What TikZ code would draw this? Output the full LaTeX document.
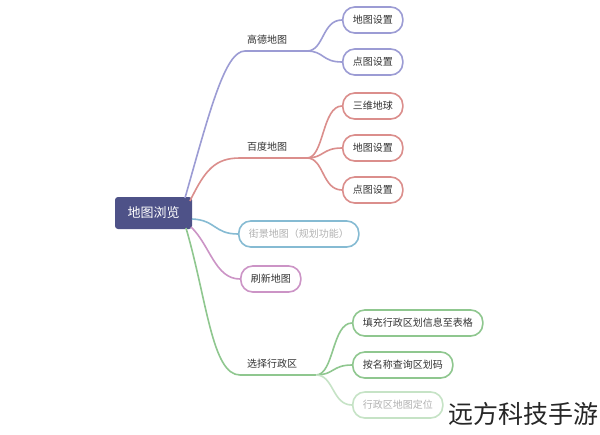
\documentclass[tikz,border=0pt]{standalone}
\usepackage{fontspec}
\setmainfont{Noto Sans CJK SC}
\definecolor{cpur}{HTML}{9C9CD4}
\definecolor{cred}{HTML}{DB8E8C}
\definecolor{cblue}{HTML}{86BBD3}
\definecolor{cpink}{HTML}{CC94C6}
\definecolor{cgreen}{HTML}{8FC78F}
\definecolor{cgreenl}{HTML}{C6E3C6}
\definecolor{croot}{HTML}{4E5288}
\begin{document}
\begin{tikzpicture}[x=1pt,y=-1pt,
  pill/.style={draw, line width=1.6pt, rounded corners=12pt, fill=white,
    minimum height=26pt, inner xsep=10pt, anchor=west,
    font=\fontsize{10}{12}\selectfont, text=black!80},
  lbl/.style={font=\fontsize{10}{12}\selectfont, text=black!80},
  conn/.style={line width=1.6pt},
  faded/.style={text=black!30}]
\useasboundingbox[fill=white] (0,0) rectangle (600,434);

% root
\node[fill=croot, rounded corners=3pt, minimum width=77pt, minimum height=32pt,
  text=white, font=\fontsize{13}{15}\selectfont] (root) at (153.5,213) {地图浏览};

% coordinates of connector ends
\coordinate (r1) at (185,198);
\coordinate (r2) at (190,201);
\coordinate (r3) at (192,219);
\coordinate (r4) at (191,227);
\coordinate (r5) at (186,228);
\coordinate (gdL) at (245,51);
\coordinate (gdR) at (307,51);
\coordinate (bdL) at (240,158);
\coordinate (bdR) at (307,158);
\coordinate (xzL) at (240,375);
\coordinate (xzR) at (316,375);

% labels
\node[lbl] (gd) at (267,40) {高德地图};
\node[lbl] (bd) at (267,147) {百度地图};
\node[lbl] (xz) at (272,364) {选择行政区};

% boxes
\node[pill, draw=cpur] (g1) at (342,20) {地图设置};
\node[pill, draw=cpur] (g2) at (342,62) {点图设置};
\node[pill, draw=cred] (b1) at (342,106) {三维地球};
\node[pill, draw=cred] (b2) at (342,148) {地图设置};
\node[pill, draw=cred] (b3) at (342,190) {点图设置};
\node[pill, draw=cblue, faded] (jj) at (238,234) {街景地图（规划功能）};
\node[pill, draw=cpink] (sx) at (240,279) {刷新地图};
\node[pill, draw=cgreen] (x1) at (352,323) {填充行政区划信息至表格};
\node[pill, draw=cgreen] (x2) at (352,365) {按名称查询区划码};
\node[pill, draw=cgreenl, faded] (x3) at (352,405) {行政区地图定位};

% connectors from root
\draw[conn, cpur] (r1) .. controls (210,110) and (225,51) .. (gdL) -- (gdR);
\draw[conn, cred] (r2) .. controls (205,170) and (215,158) .. (bdL) -- (bdR);
\draw[conn, cblue] (r3) .. controls (216,220) and (214,234) .. (jj.west);
\draw[conn, cpink] (r4) .. controls (210,245) and (215,279) .. (sx.west);
\draw[conn, cgreen] (r5) .. controls (207,300) and (212,375) .. (xzL) -- (xzR);

% sub branches
\draw[conn, cpur] (gdR) .. controls (324,51) and (322,20) .. (g1.west);
\draw[conn, cpur] (gdR) .. controls (324,51) and (322,62) .. (g2.west);
\draw[conn, cred] (bdR) .. controls (324,158) and (322,106) .. (b1.west);
\draw[conn, cred] (bdR) .. controls (324,158) and (322,148) .. (b2.west);
\draw[conn, cred] (bdR) .. controls (324,158) and (322,190) .. (b3.west);
\draw[conn, cgreen] (xzR) .. controls (334,375) and (332,323) .. (x1.west);
\draw[conn, cgreen] (xzR) .. controls (334,375) and (332,365) .. (x2.west);
\draw[conn, cgreenl] (xzR) .. controls (334,375) and (332,405) .. (x3.west);

% watermark
\node[font=\fontsize{25}{27}\selectfont, text=black!85, inner sep=0pt] (wm) at (523,414) {远方科技手游};
\end{tikzpicture}
\end{document}
